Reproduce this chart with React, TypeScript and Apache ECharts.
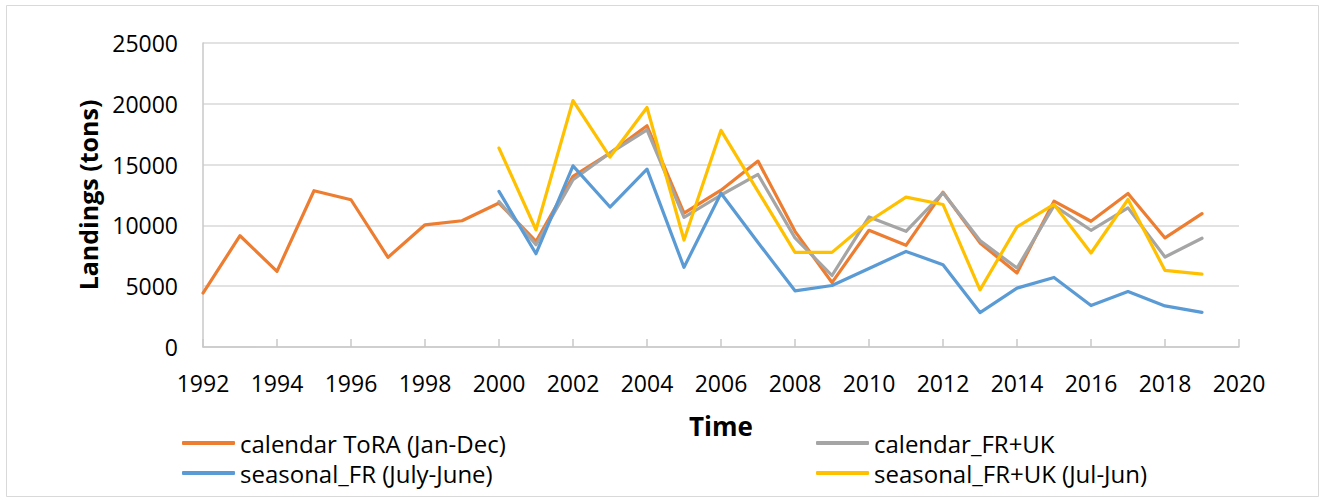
import React, { useEffect, useRef } from "react";
import * as echarts from "echarts";

const yearsToRA = [1992, 1993, 1994, 1995, 1996, 1997, 1998, 1999, 2000, 2001, 2002, 2003, 2004, 2005, 2006, 2007, 2008, 2009, 2010, 2011, 2012, 2013, 2014, 2015, 2016, 2017, 2018, 2019];
const calendarToRA = [4440, 9150, 6220, 12850, 12110, 7370, 10050, 10380, 11840, 8680, 14030, 15950, 18190, 11010, 12900, 15290, 9510, 5300, 9600, 8360, 12730, 8560, 6080, 11990, 10340, 12620, 8970, 10970];

const yearsRecent = [2000, 2001, 2002, 2003, 2004, 2005, 2006, 2007, 2008, 2009, 2010, 2011, 2012, 2013, 2014, 2015, 2016, 2017, 2018, 2019];
const calendarFRUK = [11970, 8410, 13750, 15950, 17860, 10660, 12500, 14190, 8970, 5880, 10700, 9510, 12680, 8750, 6490, 11630, 9600, 11440, 7400, 8940];
const seasonalFR = [12800, 7670, 14900, 11510, 14630, 6550, 12650, 8600, 4620, 5060, 6460, 7860, 6770, 2830, 4840, 5720, 3410, 4560, 3380, 2850];
const seasonalFRUK = [16360, 9640, 20270, 15620, 19700, 8800, 17820, 12800, 7780, 7780, 10340, 12320, 11720, 4700, 9880, 11720, 7730, 12130, 6300, 6000];

const seriesNames = [
  "calendar ToRA (Jan-Dec)",
  "calendar_FR+UK",
  "seasonal_FR (July-June)",
  "seasonal_FR+UK (Jul-Jun)",
];
const seriesColors = ["#ED7D31", "#A5A5A5", "#5B9BD5", "#FFC000"];

const xAxisTitle = "Time";
const yAxisTitle = "Landings (tons)";

const FONT = "'Open Sans', sans-serif";

function pairs(xs: number[], ys: number[]) {
  return xs.map((x, i) => [x, ys[i]]);
}

export default function App() {
  const ref = useRef<HTMLDivElement>(null);
  useEffect(() => {
    if (!ref.current) return;
    const chart = echarts.init(ref.current, null, { renderer: "svg" });
    const datasets = [
      pairs(yearsToRA, calendarToRA),
      pairs(yearsRecent, calendarFRUK),
      pairs(yearsRecent, seasonalFR),
      pairs(yearsRecent, seasonalFRUK),
    ];
    const legendCommon = {
      orient: "horizontal" as const,
      icon: "roundRect",
      itemWidth: 53,
      itemHeight: 4,
      padding: 0,
      textStyle: { fontFamily: FONT, fontSize: 24, color: "#000" },
      selectedMode: false,
    };
    const legendPos = [
      { left: 182, top: 431 },
      { left: 816, top: 431 },
      { left: 182, top: 461 },
      { left: 816, top: 461 },
    ];
    chart.setOption({
      animation: false,
      backgroundColor: "#fff",
      textStyle: { fontFamily: FONT },
      grid: { left: 203, right: 82, top: 43, bottom: 153 },
      legend: seriesNames.map((n, i) => ({ ...legendCommon, ...legendPos[i], data: [n] })),
      graphic: [
        {
          type: "rect",
          shape: { x: 6.5, y: 5.5, width: 1312, height: 491 },
          style: { fill: "none", stroke: "#d9d9d9", lineWidth: 1 },
          silent: true,
        },
      ],
      xAxis: {
        type: "value",
        min: 1992,
        max: 2020,
        interval: 2,
        name: xAxisTitle,
        nameLocation: "middle",
        nameGap: 66,
        nameTextStyle: { fontFamily: FONT, fontSize: 26, fontWeight: "bold", color: "#000" },
        axisLine: { show: true, lineStyle: { color: "#c8c8c8", width: 1.5 } },
        axisTick: { show: true, inside: true, length: 8, lineStyle: { color: "#c8c8c8", width: 1.5 } },
        axisLabel: { fontFamily: FONT, fontSize: 23, color: "#000", margin: 24, formatter: (v: number) => String(v) },
        splitLine: { show: false },
      },
      yAxis: {
        type: "value",
        min: 0,
        max: 25000,
        interval: 5000,
        name: yAxisTitle,
        nameLocation: "middle",
        nameRotate: 90,
        nameGap: 103,
        nameTextStyle: { fontFamily: FONT, fontSize: 25, fontWeight: "bold", color: "#000" },
        axisLine: { show: true, lineStyle: { color: "#c8c8c8", width: 1.5 } },
        axisTick: { show: false },
        axisLabel: { fontFamily: FONT, fontSize: 23, color: "#000", margin: 25, formatter: (v: number) => String(v) },
        splitLine: { show: true, lineStyle: { color: "#d9d9d9", width: 1.5 } },
      },
      series: datasets.map((d, i) => ({
        name: seriesNames[i],
        type: "line",
        data: d,
        showSymbol: false,
        symbol: "none",
        color: seriesColors[i],
        lineStyle: { width: 3.2, color: seriesColors[i], cap: "round", join: "round" },
        itemStyle: { color: seriesColors[i] },
        z: 2 + i,
      })),
    });
    return () => chart.dispose();
  }, []);
  return (
    <div
      ref={ref}
      style={{ position: "absolute", left: 0, top: 0, width: 1321, height: 500 }}
    />
  );
}
